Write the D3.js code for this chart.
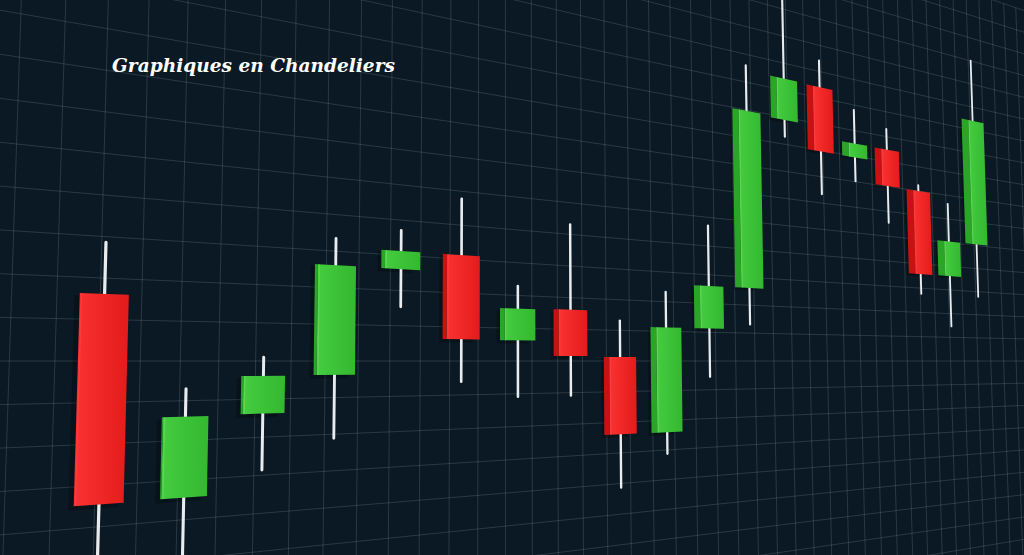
<!DOCTYPE html>
<html>
<head>
<meta charset="utf-8">
<script src="https://cdn.jsdelivr.net/npm/d3@7"></script>
<style>
  html, body { margin: 0; padding: 0; background: #0b1924; }
  svg { display: block; }
</style>
</head>
<body>
<svg id="chart" width="1024" height="555"></svg>
<script>
// ---- data ----
const sessions = ["S1","S2","S3","S4","S5","S6","S7","S8","S9","S10","S11","S12","S13","S14","S15","S16","S17","S18","S19"];
const opens  = [116.2, 65.6, 86.2, 96.2, 126.1, 131.2, 106.3, 116.2, 101.3, 76.0, 111.3, 126.2, 189.0, 204.0, 179.5, 184.8, 170.0, 135.9, 150.5];
const closes = [65.4, 86.0, 96.1, 126.2, 131.2, 106.4, 116.0, 101.6, 76.1, 111.3, 126.1, 189.7, 204.3, 179.6, 184.9, 170.2, 135.8, 150.5, 204.0];
const highs  = [128.6, 93.0, 101.0, 133.5, 137.1, 147.8, 122.9, 143.1, 113.2, 123.3, 147.1, 206.0, 235.7, 214.1, 198.0, 193.1, 172.4, 166.4, 230.1];
const lows   = [49.2, 48.2, 71.4, 78.9, 115.4, 93.9, 89.1, 89.1, 58.7, 68.7, 94.5, 113.1, 182.8, 163.4, 170.2, 155.5, 127.7, 114.6, 127.8];
const gridPrices = d3.range(-80, 400, 10);
const title = "Graphiques en Chandeliers";

// ---- scales in the chart plane ----
const xPlane = d3.scalePoint().domain(sessions).range([2.3, 39.135]);
const yPlane = d3.scaleLinear().domain([100, 110]).range([0, -1]);

// ---- perspective projection of the plane onto the screen ----
const P = {a: 47, b: 43.6, c: 0.02256, yh: 361, xv: 502, yv: -14500};
function proj(X, Y) {
  const k = 1 / (1 + P.c * X);
  const sx = P.a * X * k;
  const y = P.yh + P.b * Y * k;
  const x = P.xv + (sx - P.xv) * (y - P.yv) / (P.yh - P.yv);
  return [x, y];
}
const kAt = X => 1 / (1 + P.c * X);

const svg = d3.select("#chart");
const W = 1024, H = 555;
svg.append("rect").attr("width", W).attr("height", H).attr("fill", "#0b1924");

const defs = svg.append("defs");
function grad(id, c1, c2) {
  const g = defs.append("linearGradient").attr("id", id).attr("x1", "0").attr("x2", "1").attr("y1", "0").attr("y2", "0");
  g.append("stop").attr("offset", "0").attr("stop-color", c1);
  g.append("stop").attr("offset", "1").attr("stop-color", c2);
}
grad("gRed", "#fb3232", "#e41b1b");
grad("gGreen", "#45cc40", "#33b82f");

const line = d3.line().x(d => d[0]).y(d => d[1]);
const gridG = svg.append("g").attr("stroke", "rgba(205,215,225,0.16)").attr("stroke-width", 1).attr("fill", "none");

// horizontal grid lines (constant price)
gridPrices.forEach(p => {
  const Y = yPlane(p);
  const pts = d3.range(-2, 90, 0.5).map(X => proj(X, Y));
  gridG.append("path").attr("d", line(pts));
});
// vertical grid lines (constant plane X)
d3.range(0.2, 50, 1).forEach(X => {
  const pts = d3.range(-16, 12, 0.5).map(Y => proj(X, Y));
  gridG.append("path").attr("d", line(pts));
});

// ---- candles ----
const halfW = 0.58, depthE = 0.0141, camX = 2.2;
const candles = sessions.map((s, i) => ({s, o: opens[i], c: closes[i], h: highs[i], l: lows[i]}));

const cg = svg.append("g");
candles.forEach(d => {
  const X = xPlane(d.s);
  const shift = depthE * (X - camX);
  const k = kAt(X);
  const up = d.c >= d.o;
  const top = yPlane(Math.max(d.o, d.c)), bot = yPlane(Math.min(d.o, d.c));
  const g = cg.append("g");
  // soft shadow on the plane
  const sh = [proj(X - halfW - 0.12, top + 0.05), proj(X + halfW - 0.12, top + 0.05), proj(X + halfW - 0.12, bot + 0.1), proj(X - halfW - 0.12, bot + 0.1)];
  g.append("path").attr("d", line(sh) + "Z").attr("fill", "rgba(0,0,0,0.25)");
  // wick
  const wx = X + shift * 0.5;
  const wp = [proj(wx, yPlane(d.h)), proj(wx, yPlane(d.l))];
  g.append("path").attr("d", line(wp)).attr("stroke", "#e8ecef").attr("stroke-width", 3.4 * k).attr("stroke-linecap", "round");
  // side face
  const side = [proj(X - halfW, top), proj(X - halfW + shift, top), proj(X - halfW + shift, bot), proj(X - halfW, bot)];
  g.append("path").attr("d", line(side) + "Z").attr("fill", up ? "#2aa528" : "#c81212");
  // front face
  const front = [proj(X - halfW + shift, top), proj(X + halfW + shift, top), proj(X + halfW + shift, bot), proj(X - halfW + shift, bot)];
  g.append("path").attr("d", line(front) + "Z").attr("fill", up ? "url(#gGreen)" : "url(#gRed)");
  // thin highlight on left edge of front face
  const edge = [proj(X - halfW + shift + 0.04, top), proj(X - halfW + shift + 0.04, bot)];
  g.append("path").attr("d", line(edge)).attr("stroke", up ? "rgba(120,230,110,0.5)" : "rgba(255,70,70,0.6)").attr("stroke-width", 1.2);
});

// ---- title ----
const t = svg.append("text")
  .attr("x", 112).attr("y", 72)
  .attr("fill", "#ffffff")
  .attr("font-family", "'DejaVu Serif', 'Liberation Serif', serif")
  .attr("font-weight", "bold").attr("font-style", "italic")
  .attr("font-size", 18)
  .text(title);
const tw = t.node().getComputedTextLength();
t.attr("font-size", 18 * 283 / tw);
</script>
</body>
</html>
